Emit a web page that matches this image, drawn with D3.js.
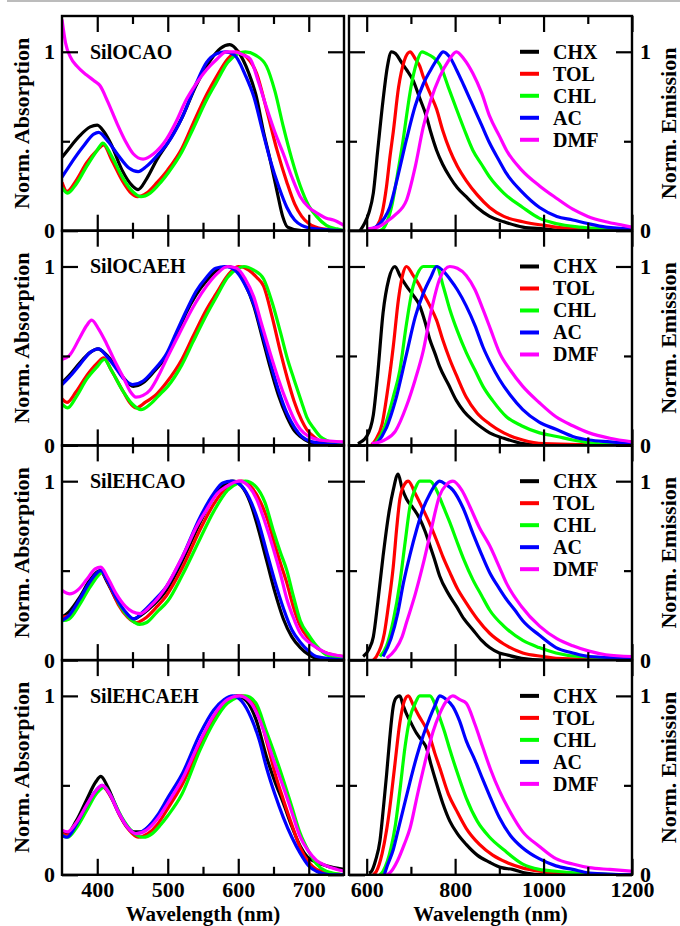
<!DOCTYPE html>
<html>
<head>
<meta charset="utf-8">
<script src="https://cdn.jsdelivr.net/npm/d3@7"></script>
<style>
  body { margin: 0; background: #fff; }
  svg { display: block; }
  svg text { font-family: "Liberation Serif", "Times New Roman", "DejaVu Serif", serif; font-weight: bold; }
</style>
</head>
<body>
<script>
// solvents, colours and sample names
var solvents = ["CHX", "TOL", "CHL", "AC", "DMF"];
var colors = ["#000000", "#ff0000", "#00ff00", "#0000ff", "#ff00ff"];
var samples = ["SilOCAO", "SilOCAEH", "SilEHCAO", "SilEHCAEH"];

// tick values
var absTicks = [400, 500, 600, 700];
var absMinor = [450, 550, 650];
var emTicks = [600, 800, 1000, 1200];
var emMinor = [700, 900, 1100];
var yTicks = [0, 1];
var yMinor = [0.5];

// absorption spectra [nm, norm. abs], one list per solvent (CHX, TOL, CHL, AC, DMF)
var absOCAO = [
  [[350,0.41],[360,0.46],[375,0.53],[390,0.58],[400,0.59],[410,0.55],[420,0.48],[435,0.34],[450,0.25],[458,0.23],[470,0.29],[485,0.40],[500,0.49],[520,0.63],[540,0.81],[560,0.95],[575,1.02],[588,1.04],[600,1.0],[615,0.88],[625,0.76],[636,0.55],[645,0.40],[655,0.22],[663,0.08],[670,0.02],[690,0.0],[750,0.0]],
  [[350,0.27],[357,0.22],[370,0.28],[385,0.38],[400,0.45],[409,0.48],[420,0.40],[437,0.27],[448,0.21],[457,0.19],[470,0.21],[485,0.27],[500,0.34],[520,0.46],[536,0.60],[555,0.76],[569,0.86],[585,0.96],[598,1.0],[612,0.97],[626,0.88],[640,0.68],[655,0.45],[669,0.27],[680,0.15],[690,0.08],[700,0.04],[720,0.01],[750,0.0]],
  [[350,0.24],[358,0.21],[370,0.26],[385,0.36],[400,0.45],[408,0.49],[420,0.42],[437,0.29],[450,0.22],[462,0.19],[475,0.21],[490,0.27],[500,0.32],[520,0.44],[536,0.57],[555,0.73],[569,0.83],[585,0.94],[600,0.99],[610,1.0],[625,0.98],[640,0.92],[652,0.78],[664,0.58],[676,0.40],[688,0.25],[700,0.14],[711,0.08],[725,0.03],[740,0.01],[750,0.0]],
  [[350,0.30],[360,0.36],[380,0.47],[395,0.54],[402,0.55],[415,0.50],[430,0.42],[445,0.35],[458,0.33],[470,0.36],[485,0.42],[500,0.49],[520,0.63],[540,0.82],[555,0.94],[570,0.99],[582,1.0],[595,0.98],[610,0.87],[622,0.75],[635,0.55],[645,0.40],[658,0.24],[669,0.13],[680,0.06],[690,0.03],[710,0.01],[750,0.0]],
  [[350,1.18],[355,1.05],[362,0.97],[371,0.92],[385,0.87],[395,0.84],[404,0.81],[415,0.72],[428,0.60],[440,0.50],[451,0.43],[465,0.40],[480,0.43],[498,0.51],[512,0.61],[526,0.73],[540,0.82],[555,0.90],[570,0.96],[583,1.0],[595,1.0],[608,0.98],[617,0.96],[628,0.84],[640,0.69],[652,0.55],[664,0.43],[676,0.30],[688,0.19],[700,0.13],[711,0.10],[725,0.07],[735,0.06],[750,0.03]]
];
var absOCAEH = [
  [[350,0.35],[360,0.39],[375,0.46],[390,0.52],[401,0.54],[412,0.51],[423,0.46],[437,0.38],[451,0.33],[465,0.35],[480,0.41],[498,0.50],[512,0.61],[526,0.74],[540,0.84],[555,0.92],[570,0.98],[585,1.0],[598,0.98],[610,0.90],[622,0.78],[633,0.62],[645,0.44],[657,0.28],[669,0.16],[680,0.08],[688,0.05],[700,0.02],[720,0.0],[750,0.0]],
  [[350,0.26],[357,0.24],[370,0.30],[385,0.39],[400,0.46],[409,0.49],[420,0.42],[437,0.30],[448,0.23],[455,0.21],[468,0.24],[485,0.29],[498,0.35],[520,0.48],[536,0.61],[555,0.76],[569,0.85],[585,0.95],[600,1.0],[615,0.98],[626,0.94],[636,0.89],[648,0.72],[660,0.52],[670,0.37],[679,0.25],[690,0.14],[697,0.09],[710,0.04],[725,0.01],[750,0.0]],
  [[350,0.23],[358,0.21],[370,0.27],[385,0.37],[400,0.44],[410,0.48],[420,0.42],[437,0.30],[450,0.23],[462,0.20],[475,0.23],[490,0.29],[500,0.33],[520,0.45],[536,0.58],[555,0.73],[569,0.83],[585,0.94],[600,0.99],[608,1.0],[622,0.98],[636,0.93],[648,0.80],[660,0.63],[670,0.48],[679,0.37],[690,0.24],[697,0.16],[708,0.09],[716,0.05],[730,0.02],[750,0.0]],
  [[350,0.34],[360,0.38],[375,0.45],[390,0.52],[402,0.54],[413,0.50],[425,0.44],[438,0.37],[450,0.34],[465,0.36],[480,0.42],[498,0.51],[512,0.63],[526,0.75],[540,0.86],[555,0.94],[568,0.99],[582,1.0],[595,0.98],[608,0.91],[622,0.79],[633,0.64],[645,0.47],[657,0.31],[669,0.18],[680,0.10],[690,0.05],[705,0.02],[750,0.0]],
  [[350,0.48],[360,0.50],[375,0.60],[385,0.67],[392,0.70],[402,0.65],[413,0.57],[425,0.47],[437,0.38],[447,0.30],[455,0.27],[465,0.28],[475,0.31],[487,0.39],[498,0.48],[512,0.59],[526,0.70],[540,0.80],[555,0.89],[570,0.96],[585,1.0],[598,0.99],[610,0.93],[622,0.83],[633,0.68],[645,0.52],[657,0.37],[669,0.24],[680,0.14],[688,0.09],[700,0.05],[715,0.03],[750,0.02]]
];
var absEHCAO = [
  [[350,0.24],[360,0.27],[375,0.35],[390,0.45],[404,0.50],[415,0.43],[428,0.33],[440,0.26],[451,0.23],[465,0.26],[480,0.31],[498,0.39],[520,0.55],[546,0.77],[565,0.91],[580,0.98],[592,1.0],[605,0.97],[617,0.88],[628,0.74],[640,0.56],[652,0.38],[664,0.23],[676,0.13],[688,0.07],[700,0.03],[711,0.01],[750,0.0]],
  [[350,0.24],[360,0.25],[375,0.33],[390,0.43],[406,0.49],[417,0.42],[430,0.31],[443,0.24],[455,0.21],[470,0.24],[485,0.30],[498,0.36],[520,0.51],[546,0.73],[565,0.87],[585,0.97],[605,1.0],[620,0.96],[632,0.88],[642,0.78],[650,0.67],[660,0.54],[669,0.43],[678,0.30],[688,0.19],[700,0.12],[711,0.07],[725,0.04],[750,0.02]],
  [[350,0.22],[360,0.23],[375,0.31],[390,0.41],[408,0.49],[420,0.41],[433,0.30],[447,0.23],[460,0.20],[470,0.21],[485,0.27],[500,0.33],[520,0.47],[546,0.68],[565,0.83],[585,0.95],[600,0.99],[610,1.0],[625,0.97],[638,0.88],[650,0.72],[660,0.60],[669,0.50],[678,0.36],[688,0.22],[700,0.14],[711,0.08],[725,0.03],[750,0.01]],
  [[350,0.22],[360,0.25],[375,0.34],[390,0.44],[405,0.50],[415,0.44],[428,0.34],[440,0.27],[452,0.23],[465,0.27],[480,0.33],[498,0.41],[520,0.57],[546,0.80],[565,0.93],[578,0.99],[590,1.0],[603,0.98],[615,0.91],[628,0.78],[640,0.61],[652,0.44],[664,0.29],[676,0.17],[688,0.10],[700,0.05],[711,0.02],[750,0.0]],
  [[350,0.39],[361,0.37],[372,0.39],[385,0.45],[397,0.51],[405,0.52],[415,0.46],[427,0.37],[440,0.30],[450,0.27],[461,0.26],[475,0.30],[487,0.35],[498,0.41],[512,0.51],[526,0.62],[540,0.74],[555,0.84],[570,0.93],[583,0.97],[602,1.0],[615,0.97],[626,0.90],[638,0.77],[650,0.62],[660,0.48],[669,0.34],[680,0.22],[688,0.15],[700,0.10],[711,0.07],[725,0.04],[735,0.03],[750,0.02]]
];
var absEHCAEH = [
  [[350,0.24],[357,0.23],[370,0.30],[385,0.42],[398,0.52],[405,0.55],[415,0.49],[428,0.37],[440,0.28],[452,0.24],[462,0.24],[478,0.29],[500,0.40],[520,0.52],[546,0.71],[565,0.86],[582,0.96],[598,1.0],[612,0.97],[625,0.87],[640,0.66],[652,0.52],[664,0.40],[676,0.27],[688,0.16],[698,0.10],[711,0.07],[725,0.05],[750,0.03]],
  [[350,0.23],[358,0.22],[370,0.27],[385,0.37],[398,0.46],[408,0.49],[420,0.43],[432,0.33],[445,0.25],[458,0.21],[472,0.23],[485,0.28],[500,0.37],[520,0.50],[546,0.72],[565,0.87],[585,0.97],[605,1.0],[620,0.96],[632,0.86],[642,0.72],[652,0.57],[664,0.42],[676,0.28],[688,0.15],[700,0.07],[711,0.03],[730,0.01],[750,0.0]],
  [[350,0.22],[358,0.21],[370,0.26],[385,0.36],[400,0.46],[410,0.49],[422,0.42],[435,0.32],[450,0.24],[465,0.21],[478,0.23],[490,0.28],[500,0.33],[520,0.45],[546,0.70],[565,0.85],[585,0.96],[610,1.0],[625,0.96],[640,0.80],[652,0.67],[664,0.53],[676,0.38],[688,0.23],[700,0.13],[711,0.06],[725,0.02],[750,0.0]],
  [[350,0.22],[357,0.21],[370,0.28],[385,0.39],[398,0.47],[407,0.50],[418,0.45],[430,0.35],[442,0.27],[455,0.23],[470,0.26],[485,0.33],[500,0.43],[520,0.56],[546,0.79],[565,0.92],[580,0.98],[592,1.0],[605,0.97],[618,0.88],[630,0.75],[640,0.60],[652,0.45],[664,0.32],[676,0.21],[688,0.12],[700,0.05],[711,0.02],[730,0.0],[750,0.0]],
  [[350,0.25],[358,0.24],[370,0.29],[385,0.39],[398,0.47],[407,0.50],[418,0.45],[430,0.35],[442,0.27],[455,0.23],[470,0.25],[485,0.31],[500,0.40],[520,0.53],[546,0.75],[565,0.89],[585,0.98],[602,1.0],[618,0.96],[630,0.87],[640,0.76],[652,0.62],[664,0.49],[676,0.35],[688,0.21],[700,0.13],[711,0.08],[725,0.05],[740,0.03],[750,0.02]]
];

// emission spectra [nm, norm. emission]
var emOCAO = [
  [[585,0.0],[595,0.04],[605,0.10],[615,0.21],[625,0.45],[637,0.73],[647,0.92],[656,1.0],[665,0.99],[679,0.94],[690,0.90],[705,0.84],[720,0.74],[735,0.64],[745,0.55],[758,0.45],[772,0.37],[788,0.30],[805,0.24],[825,0.19],[850,0.13],[878,0.08],[910,0.05],[953,0.02],[1000,0.01],[1050,0.0],[1200,0.0]],
  [[615,0.0],[622,0.02],[635,0.10],[645,0.25],[653,0.42],[660,0.55],[672,0.80],[685,0.95],[698,1.0],[710,0.96],[720,0.92],[728,0.86],[743,0.77],[758,0.68],[772,0.56],[788,0.45],[805,0.36],[825,0.28],[850,0.20],[878,0.13],[910,0.08],[953,0.05],[1000,0.03],[1028,0.02],[1080,0.01],[1200,0.0]],
  [[630,0.0],[640,0.02],[655,0.12],[670,0.32],[682,0.50],[690,0.64],[700,0.80],[713,0.94],[725,1.0],[735,0.99],[750,0.97],[765,0.93],[785,0.80],[803,0.68],[820,0.57],[840,0.45],[860,0.37],[878,0.30],[910,0.21],[953,0.13],[990,0.07],[1028,0.04],[1080,0.02],[1150,0.01],[1200,0.0]],
  [[600,0.0],[620,0.02],[640,0.07],[652,0.13],[670,0.30],[690,0.51],[710,0.70],[728,0.82],[745,0.90],[760,0.96],[773,1.0],[788,0.97],[803,0.90],[820,0.81],[840,0.70],[860,0.59],[878,0.49],[900,0.39],[916,0.32],[950,0.22],[991,0.13],[1030,0.08],[1066,0.06],[1100,0.04],[1141,0.02],[1200,0.01]],
  [[600,0.01],[625,0.02],[645,0.05],[665,0.09],[690,0.17],[710,0.36],[728,0.58],[745,0.73],[765,0.86],[785,0.95],[803,1.0],[820,0.96],[840,0.88],[860,0.77],[878,0.64],[900,0.53],[916,0.45],[950,0.34],[991,0.25],[1030,0.18],[1066,0.12],[1100,0.08],[1141,0.05],[1180,0.03],[1200,0.02]]
];
var emOCAEH = [
  [[580,0.01],[600,0.05],[615,0.17],[625,0.40],[637,0.74],[650,0.93],[664,1.0],[675,0.95],[690,0.89],[705,0.84],[720,0.78],[732,0.69],[743,0.59],[755,0.51],[765,0.44],[785,0.34],[803,0.25],[820,0.19],[840,0.14],[860,0.10],[878,0.07],[910,0.04],[953,0.01],[1000,0.0],[1200,0.0]],
  [[610,0.0],[620,0.03],[635,0.12],[648,0.32],[660,0.55],[672,0.82],[682,0.96],[690,1.0],[705,0.95],[718,0.90],[728,0.85],[743,0.78],[758,0.70],[772,0.59],[788,0.48],[805,0.38],[825,0.27],[850,0.18],[878,0.12],[910,0.07],[953,0.03],[1000,0.01],[1200,0.0]],
  [[615,0.0],[622,0.02],[640,0.10],[660,0.27],[675,0.42],[690,0.68],[705,0.89],[715,0.96],[728,1.0],[758,1.0],[773,0.89],[788,0.76],[805,0.64],[825,0.52],[845,0.42],[863,0.33],[885,0.25],[916,0.16],[950,0.11],[991,0.07],[1030,0.05],[1066,0.03],[1120,0.01],[1200,0.0]],
  [[620,0.0],[645,0.10],[665,0.25],[690,0.51],[710,0.72],[728,0.85],[745,0.94],[758,1.0],[775,0.97],[788,0.93],[805,0.87],[825,0.78],[845,0.67],[863,0.55],[880,0.46],[900,0.37],[925,0.28],[953,0.20],[990,0.13],[1028,0.09],[1066,0.05],[1103,0.03],[1150,0.02],[1200,0.01]],
  [[611,0.01],[640,0.03],[665,0.08],[690,0.22],[710,0.37],[728,0.53],[745,0.74],[765,0.93],[788,1.0],[805,0.99],[825,0.95],[845,0.87],[863,0.76],[880,0.65],[900,0.52],[925,0.42],[953,0.33],[990,0.24],[1028,0.16],[1066,0.11],[1103,0.07],[1150,0.04],[1200,0.02]]
];
var emEHCAO = [
  [[592,0.02],[605,0.06],[615,0.13],[625,0.32],[637,0.58],[650,0.82],[660,0.95],[671,1.04],[680,0.96],[690,0.90],[705,0.85],[720,0.79],[732,0.72],[743,0.64],[755,0.55],[765,0.47],[785,0.37],[803,0.30],[820,0.23],[840,0.17],[860,0.11],[878,0.07],[900,0.04],[916,0.03],[950,0.01],[1000,0.0],[1200,0.0]],
  [[615,0.0],[622,0.02],[640,0.15],[650,0.32],[660,0.52],[668,0.74],[675,0.90],[685,0.98],[694,1.0],[710,0.93],[728,0.84],[743,0.76],[758,0.67],[772,0.58],[788,0.49],[805,0.40],[825,0.32],[850,0.23],[878,0.15],[910,0.09],[953,0.04],[1000,0.02],[1028,0.01],[1200,0.0]],
  [[630,0.02],[645,0.08],[660,0.22],[675,0.43],[687,0.66],[698,0.86],[710,0.96],[720,1.0],[743,1.0],[758,0.95],[773,0.86],[788,0.77],[803,0.67],[820,0.56],[840,0.45],[860,0.36],[878,0.28],[910,0.19],[953,0.11],[990,0.07],[1028,0.04],[1080,0.02],[1200,0.01]],
  [[637,0.02],[655,0.12],[670,0.26],[683,0.43],[698,0.59],[713,0.73],[728,0.85],[743,0.93],[755,0.98],[765,1.0],[780,0.98],[795,0.95],[818,0.85],[840,0.71],[860,0.59],[878,0.49],[900,0.40],[916,0.34],[935,0.28],[953,0.22],[990,0.14],[1028,0.07],[1066,0.04],[1103,0.02],[1200,0.01]],
  [[645,0.01],[665,0.06],[680,0.13],[690,0.21],[710,0.37],[728,0.54],[745,0.72],[765,0.92],[780,0.98],[795,1.0],[815,0.95],[833,0.86],[855,0.74],[878,0.64],[900,0.52],[916,0.43],[950,0.30],[991,0.19],[1030,0.12],[1066,0.08],[1103,0.05],[1141,0.03],[1200,0.02]]
];
var emEHCAEH = [
  [[605,0.01],[611,0.02],[620,0.08],[630,0.19],[638,0.38],[645,0.56],[652,0.76],[660,0.94],[667,0.99],[675,1.0],[682,0.95],[690,0.90],[700,0.85],[713,0.79],[725,0.75],[735,0.71],[745,0.62],[758,0.51],[772,0.40],[788,0.30],[805,0.23],[825,0.17],[850,0.11],[878,0.07],[905,0.04],[930,0.03],[960,0.01],[1000,0.0],[1200,0.0]],
  [[615,0.0],[622,0.02],[635,0.12],[645,0.25],[652,0.37],[663,0.60],[675,0.85],[685,0.97],[694,1.0],[705,0.95],[720,0.88],[732,0.83],[743,0.77],[754,0.68],[765,0.60],[785,0.45],[803,0.36],[825,0.26],[855,0.17],[885,0.11],[916,0.07],[950,0.04],[991,0.02],[1030,0.01],[1200,0.0]],
  [[630,0.0],[637,0.02],[655,0.15],[665,0.28],[675,0.47],[687,0.72],[698,0.88],[710,0.96],[720,1.0],[743,1.0],[755,0.95],[765,0.88],[776,0.80],[788,0.70],[805,0.57],[825,0.43],[850,0.30],[878,0.21],[910,0.14],[953,0.06],[990,0.03],[1028,0.02],[1080,0.01],[1200,0.0]],
  [[640,0.0],[645,0.04],[660,0.14],[672,0.26],[683,0.37],[698,0.52],[713,0.66],[728,0.78],[743,0.88],[755,0.95],[765,1.0],[780,0.98],[795,0.94],[810,0.86],[825,0.75],[845,0.64],[863,0.53],[880,0.43],[900,0.32],[925,0.22],[953,0.15],[990,0.09],[1028,0.05],[1066,0.03],[1103,0.01],[1200,0.0]],
  [[645,0.0],[652,0.01],[670,0.08],[685,0.17],[698,0.26],[715,0.45],[735,0.66],[750,0.80],[765,0.90],[780,0.97],[795,1.0],[810,0.98],[825,0.96],[845,0.84],[863,0.71],[880,0.59],[900,0.47],[925,0.35],[953,0.24],[990,0.16],[1028,0.09],[1066,0.06],[1103,0.04],[1150,0.03],[1200,0.02]]
];

var absSets = [absOCAO, absOCAEH, absEHCAO, absEHCAEH];
var emSets = [emOCAO, emOCAEH, emEHCAO, emEHCAEH];

var width = 680;
var height = 926;

var rowTop = 16;
var rowHeight = 214.7;
var majorLen = 16;
var minorLen = 8;

var svg = d3.select("body")
  .append("svg")
  .attr("width", width)
  .attr("height", height);

// thin grey rule across the top
svg.append("rect")
  .attr("x", 7).attr("y", 0)
  .attr("width", width - 7).attr("height", 2)
  .attr("fill", "#bcbcbc");

var xAbs = d3.scaleLinear().domain([350, 750]).range([62, 344]);
var xEm = d3.scaleLinear().domain([560, 1200]).range([349, 632]);

function styleAxis(g) {
  g.attr("font-family", null).attr("font-size", null);
  g.select(".domain").remove();
  g.selectAll(".tick line").attr("stroke", "#000").attr("stroke-width", 2.2);
  g.selectAll("text")
    .style("font-size", "22px")
    .attr("fill", "#000");
}

function drawPanel(row, col) {
  var x = col === 0 ? xAbs : xEm;
  var top = rowTop + row * rowHeight;
  var bottom = top + rowHeight;
  var y = d3.scaleLinear().domain([0, 1.2]).range([bottom, top]);
  var x0 = x.range()[0], x1 = x.range()[1];
  var series = col === 0 ? absSets[row] : emSets[row];
  var major = col === 0 ? absTicks : emTicks;
  var minor = col === 0 ? absMinor : emMinor;
  var lastRow = row === 3;

  var clipId = "clip" + row + "_" + col;
  svg.append("clipPath").attr("id", clipId)
    .append("rect")
    .attr("x", x0).attr("y", top)
    .attr("width", x1 - x0).attr("height", rowHeight);

  var line = d3.line()
    .x(d => x(d[0]))
    .y(d => y(d[1]))
    .curve(d3.curveMonotoneX);

  var plot = svg.append("g").attr("clip-path", `url(#${clipId})`);
  series.forEach(function(s, i) {
    plot.append("path")
      .datum(s)
      .attr("d", line)
      .attr("fill", "none")
      .attr("stroke", colors[i])
      .attr("stroke-width", 3.2)
      .attr("stroke-linejoin", "round");
  });

  // bottom ticks (labels on last row only)
  svg.append("g")
    .attr("transform", `translate(0, ${bottom})`)
    .call(d3.axisBottom(x).tickValues(major).tickSize(-majorLen)
      .tickFormat(lastRow ? d3.format("d") : ""))
    .call(styleAxis)
    .selectAll("text").attr("y", 22.5).attr("dy", 0);
  svg.append("g")
    .attr("transform", `translate(0, ${bottom})`)
    .call(d3.axisBottom(x).tickValues(minor).tickSize(-minorLen).tickFormat(""))
    .call(styleAxis);

  // top ticks
  svg.append("g")
    .attr("transform", `translate(0, ${top})`)
    .call(d3.axisTop(x).tickValues(major).tickSize(-majorLen).tickFormat(""))
    .call(styleAxis);
  svg.append("g")
    .attr("transform", `translate(0, ${top})`)
    .call(d3.axisTop(x).tickValues(minor).tickSize(-minorLen).tickFormat(""))
    .call(styleAxis);

  // left / right ticks
  svg.append("g")
    .attr("transform", `translate(${x0}, 0)`)
    .call(d3.axisLeft(y).tickValues(yTicks).tickSize(-majorLen).tickPadding(7)
      .tickFormat(col === 0 ? d3.format("d") : ""))
    .call(styleAxis);
  svg.append("g")
    .attr("transform", `translate(${x0}, 0)`)
    .call(d3.axisLeft(y).tickValues(yMinor).tickSize(-minorLen).tickFormat(""))
    .call(styleAxis);
  svg.append("g")
    .attr("transform", `translate(${x1}, 0)`)
    .call(d3.axisRight(y).tickValues(yTicks).tickSize(-majorLen).tickPadding(8)
      .tickFormat(col === 1 ? d3.format("d") : ""))
    .call(styleAxis);
  svg.append("g")
    .attr("transform", `translate(${x1}, 0)`)
    .call(d3.axisRight(y).tickValues(yMinor).tickSize(-minorLen).tickFormat(""))
    .call(styleAxis);

  // frame
  svg.append("rect")
    .attr("x", x0).attr("y", top)
    .attr("width", x1 - x0).attr("height", rowHeight)
    .attr("fill", "none")
    .attr("stroke", "#000")
    .attr("stroke-width", 2.4);

  if (col === 0) {
    svg.append("text")
      .attr("x", 90)
      .attr("y", y(1) + 7)
      .style("font-size", "20px")
      .text(samples[row]);

    svg.append("text")
      .attr("transform", `translate(29, ${(top + bottom) / 2}) rotate(-90)`)
      .attr("text-anchor", "middle")
      .style("font-size", "22px")
      .text("Norm. Absorption");
  } else {
    var legend = svg.append("g");
    solvents.forEach(function(name, i) {
      var ly = y(1) + i * 22;
      legend.append("line")
        .attr("x1", 520).attr("x2", 539)
        .attr("y1", ly).attr("y2", ly)
        .attr("stroke", colors[i])
        .attr("stroke-width", 4);
      legend.append("text")
        .attr("x", 553)
        .attr("y", ly + 7)
        .style("font-size", "20px")
        .text(name);
    });

    svg.append("text")
      .attr("transform", `translate(676, ${(top + bottom) / 2}) rotate(-90)`)
      .attr("text-anchor", "middle")
      .style("font-size", "22px")
      .text("Norm. Emission");
  }

  if (lastRow) {
    svg.append("text")
      .attr("x", (x0 + x1) / 2)
      .attr("y", 921)
      .attr("text-anchor", "middle")
      .style("font-size", "21px")
      .text("Wavelength (nm)");
  }
}

for (var r = 0; r < 4; r++) {
  drawPanel(r, 0);
  drawPanel(r, 1);
}
</script>
</body>
</html>
